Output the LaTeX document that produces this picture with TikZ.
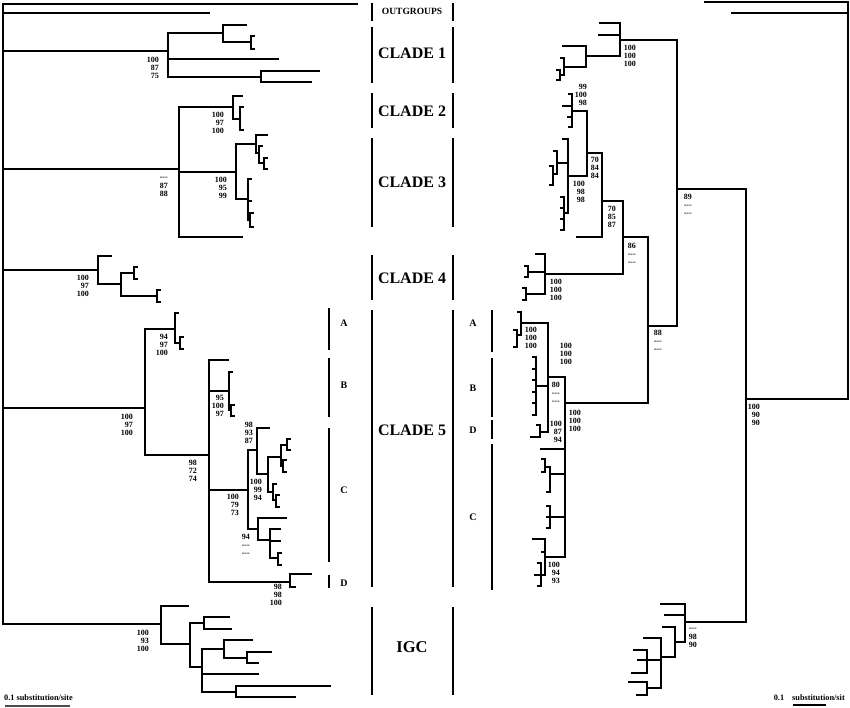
\documentclass[tikz,border=0pt]{standalone}
\usepackage{fontspec}
\setmainfont{Liberation Serif}

% small terminal brackets (open to the right / to the left)
\newcommand{\brL}[3]{\draw[branch] (#1+3,#2) -| (#1,#3) -- (#1+3,#3);}
\newcommand{\brR}[3]{\draw[branch] (#1-3,#2) -| (#1,#3) -- (#1-3,#3);}
\newcommand{\nosup}{-{}-{}-}

\begin{document}
\begin{tikzpicture}[
  x=1pt, y=-1pt,
  branch/.style  = {line width=1.8pt, line cap=rect},
  bar/.style     = {line width=1.8pt},
  clade/.style   = {font=\fontsize{16}{16}\selectfont\bfseries, inner sep=0pt},
  subcl/.style   = {font=\fontsize{10}{10}\selectfont\bfseries, inner sep=0pt},
  support/.style = {font=\fontsize{8}{8.3}\selectfont\bfseries, align=right,
                    anchor=east, inner sep=0pt},
  scaletxt/.style = {font=\fontsize{8.3}{8.3}\selectfont\bfseries, inner sep=0pt}
]
\useasboundingbox (0,0) rectangle (850,707);

%--------------------------------------------------
% LEFT TREE
%--------------------------------------------------
\draw[branch] (3,4) -- (3,624);
\draw[branch] (3,4) -- (357,4);
\draw[branch] (3,13) -- (209,13);

% clade 1
\draw[branch] (3,51) -- (168,51) (168,33) -- (168,77);
\draw[branch] (168,33) -- (223,33) (246,25) -| (223,42) -- (251,42);
\brL{251}{36}{49}
\draw[branch] (168,59) -- (278,59);
\draw[branch] (168,77) -- (261,77) (319,71) -| (261,82) -- (311,82);
\node[support] (bsL1) at (159,68) {100\\87\\75};

% clades 2 and 3
\draw[branch] (3,169) -- (179,169) (179,107) -- (179,237);
\draw[branch] (179,107) -- (233,107) (242,96) -| (233,119) -- (240,119);
\brL{240}{107}{130}
\node[support] (bsL2) at (224,123) {100\\97\\100};
\draw[branch] (179,172) -- (236,172) (236,144) -- (236,199);
\draw[branch] (236,144) -- (256,144) (267,135) -| (256,153) -- (259,153);
\brL{259}{146}{163}
\draw[branch] (259,163) -- (264,163);
\brL{264}{158}{169}
\draw[branch] (236,199) -- (248,199) (251,179) -| (248,220) -- (250,220)
  (248,201) -- (251,201);
\brL{250}{213}{227}
\draw[branch] (179,237) -- (242,237);
\node[support] (bsL3) at (227,188) {100\\95\\99};
\node[support] (bsL23) at (168,187) {\nosup\\87\\88};

% clade 4
\draw[branch] (3,270) -- (98,270) (111,256) -| (98,284) -- (121,284);
\draw[branch] (134,273) -| (121,296) -- (157,296);
\brL{134}{267}{279}
\brL{157}{290}{302}
\node[support] (bsL4) at (89,286) {100\\97\\100};

% clade 5
\draw[branch] (3,408) -- (145,408) (175,329) -| (145,455) -- (209,455);
\draw[branch] (178,313) -| (175,343) -- (180,343);
\brL{180}{337}{349}
\node[support] (bsLA) at (168,345) {94\\97\\100};
\node[support] (bsL5) at (133,425) {100\\97\\100};
\draw[branch] (228,360) -| (209,582) -- (290,582);
\draw[branch] (209,391) -- (229,391) (232,372) -| (229,410) -- (231,410);
\brL{231}{405}{416}
\node[support] (bsLB) at (224,406) {95\\100\\97};
\draw[branch] (209,490) -- (248,490) (257,450) -| (248,529) -- (258,529);
\draw[branch] (269,428) -| (257,474) -- (268,474);
\draw[branch] (281,457) -| (268,492) -- (273,492);
\draw[branch] (287,445) -| (281,466) -- (283,466);
\brL{287}{439}{450}
\brL{283}{460}{472}
\draw[branch] (276,484) -| (273,500) -- (276,500);
\brL{276}{495}{507}
\draw[branch] (286,518) -| (258,540) -- (270,540);
\draw[branch] (280,529) -| (270,558) -- (278,558) (270,541) -- (280,541);
\brL{278}{553}{565}
\draw[branch] (311,574) -| (290,587) -- (295,587);
\node[support] (bsLBC) at (197,471) {98\\72\\74};
\node[support] (bsLC1) at (253,433) {98\\93\\87};
\node[support] (bsLC2) at (262,490) {100\\99\\94};
\node[support] (bsLC) at (239,505) {100\\79\\73};
\node[support] (bsLC3) at (250,545) {94\\\nosup\\\nosup};
\node[support] (bsLD) at (282,595) {98\\98\\100};

% IGC
\draw[branch] (3,624) -- (161,624) (188,606) -| (161,644) -- (190,644);
\draw[branch] (204,623) -| (190,667) -- (202,667);
\draw[branch] (229,617) -| (204,629) -- (231,629);
\draw[branch] (224,649) -| (202,692) -- (236,692) (202,674) -- (258,674);
\draw[branch] (252,640) -| (224,658) -- (247,658);
\draw[branch] (271,652) -| (247,663) -- (258,663);
\draw[branch] (330,686) -| (236,697) -- (295,697);
\node[support] (bsLI) at (149,641) {100\\93\\100};

% scale
\node[scaletxt, anchor=west] (scaleL) at (4,698) {0.1 substitution/site};
\draw[line width=1.2pt, black!70] (5,706) -- (70,706);

%--------------------------------------------------
% CLADE LABELS
%--------------------------------------------------
\draw[bar] (372,3) -- (372,21) (453,3) -- (453,21);
\node[font=\fontsize{9.5}{9.5}\selectfont\bfseries] (outg) at (412,11) {OUTGROUPS};
\draw[bar] (372,27) -- (372,83) (453,27) -- (453,83);
\node[clade] (cl1) at (412,53) {CLADE 1};
\draw[bar] (372,93) -- (372,128) (453,93) -- (453,128);
\node[clade] (cl2) at (412,111) {CLADE 2};
\draw[bar] (372,138) -- (372,227) (453,138) -- (453,227);
\node[clade] (cl3) at (412,182) {CLADE 3};
\draw[bar] (372,255) -- (372,300) (453,255) -- (453,300);
\node[clade] (cl4) at (412,278) {CLADE 4};
\draw[bar] (372,310) -- (372,587) (453,310) -- (453,587);
\node[clade] (cl5) at (412,430) {CLADE 5};
\draw[bar] (372,607) -- (372,695) (453,607) -- (453,695);
\node[clade, font=\fontsize{16.5}{16.5}\selectfont\bfseries] (igc) at (412,647) {IGC};

% subclades, left
\draw[bar] (329,308) -- (329,350) (329,358) -- (329,417)
  (329,428) -- (329,562) (329,575) -- (329,588);
\node[subcl] (lA) at (344,323) {A};
\node[subcl] (lB) at (344,385) {B};
\node[subcl] (lC) at (344,490) {C};
\node[subcl] (lD) at (344,583) {D};

% subclades, right
\draw[bar] (492,310) -- (492,352) (492,358) -- (492,417)
  (492,420) -- (492,439) (492,444) -- (492,590);
\node[subcl] (rA) at (473,323) {A};
\node[subcl] (rB) at (473,388) {B};
\node[subcl] (rD) at (473,430) {D};
\node[subcl] (rC) at (473,517) {C};

%--------------------------------------------------
% RIGHT TREE
%--------------------------------------------------
\draw[branch] (848,2) -- (848,399) (705,2) -- (848,2) (732,13) -- (848,13);
\draw[branch] (746,399) -- (848,399);
\draw[branch] (677,189) -| (746,622) -- (685,622);
\node[support] (bsRr) at (760,415) {100\\90\\90};
\draw[branch] (620,40) -| (677,326) -- (648,326);
\node[support] (bsR15) at (692,205) {89\\\nosup\\\nosup};

% clade 1
\draw[branch] (600,23) -| (620,56) -- (586,56) (599,35) -- (620,35);
\draw[branch] (563,46) -| (586,67) -- (564,67);
\brR{564}{58}{75}
\brR{560}{70}{80}
\node[support] (bsR1) at (636,56) {100\\100\\100};

% clades 2 and 3
\brR{572}{94}{127}
\draw[branch] (563,106) -- (572,106) (568,117) -- (572,117);
\draw[branch] (572,111) -| (587,176) -- (568,176) (587,153) -- (602,153);
\node[support] (bsR2) at (587,95) {99\\100\\98};
\draw[branch] (563,139) -| (568,213) -- (564,213) (557,163) -- (568,163);
\brR{557}{151}{174}
\brR{553}{166}{185}
\brR{564}{197}{230}
\draw[branch] (561,208) -- (564,208) (561,219) -- (564,219);
\node[support] (bsR3) at (585,192) {100\\98\\98};
\node[support] (bsR23) at (599,168) {70\\84\\84};
\draw[branch] (577,237) -| (602,153) (602,201) -- (623,201);
\node[support] (bsR3b) at (616,217) {70\\85\\87};
\draw[branch] (623,201) -- (623,274) -- (545,274) (623,237) -- (648,237);
\node[support] (bsR34) at (636,254) {86\\\nosup\\\nosup};
\draw[branch] (648,237) -- (648,403) -- (565,403);
\node[support] (bsR35) at (662,341) {88\\\nosup\\\nosup};

% clade 4
\draw[branch] (536,254) -| (545,294) -- (526,294) (528,272) -- (545,272);
\brR{528}{266}{277}
\brR{526}{288}{300}
\node[support] (bsR4) at (562,290) {100\\100\\100};

% clade 5
\draw[branch] (548,377) -| (565,557) -- (545,557);
\draw[branch] (521,323) -| (548,432) -- (540,432) (536,386) -- (548,386);
\brR{521}{312}{335}
\brR{517}{330}{347}
\node[support] (bsRA) at (537,338) {100\\100\\100};
\node[support] (bsRAB) at (572,354) {100\\100\\100};
\brR{536}{357}{415}
\foreach \ty in {369,380,392,403} {
  \draw[branch] (533,\ty) -- (536,\ty);
}
\node[support] (bsRB) at (560,393) {80\\\nosup\\\nosup};
\brR{540}{425}{437}
\draw[branch] (531,437) -- (537,437);
\node[support] (bsRD) at (562,432) {100\\87\\94};
\node[support] (bsR5) at (581,421) {100\\100\\100};
\draw[branch] (541,449) -- (565,449) (550,474) -- (565,474) (550,517) -- (565,517);
\brR{550}{467}{492}
\brR{545}{459}{472}
\brR{550}{506}{528}
\draw[branch] (547,517) -- (550,517);
\draw[branch] (533,539) -| (545,575) -- (535,575) (542,552) -- (545,552);
\brR{541}{563}{586}
\node[support] (bsRC) at (560,573) {100\\94\\93};

% IGC
\draw[branch] (661,604) -| (685,642) -- (675,642) (665,615) -- (685,615);
\draw[branch] (663,627) -| (675,657) -- (661,657);
\draw[branch] (644,638) -| (661,688) -- (647,688) (647,660) -- (661,660);
\draw[branch] (634,650) -| (647,673) -- (632,673) (638,660) -- (647,660);
\draw[branch] (629,682) -| (647,695) -- (637,695);
\node[support] (bsRI) at (697,638) {\nosup\\98\\90};

% scale
\node[scaletxt] (scaleR1) at (779,698) {0.1};
\node[scaletxt, anchor=west] (scaleR2) at (792,698) {substitution/sit};
\draw[line width=1.2pt] (793,705) -- (826,705);

\end{tikzpicture}
\end{document}
